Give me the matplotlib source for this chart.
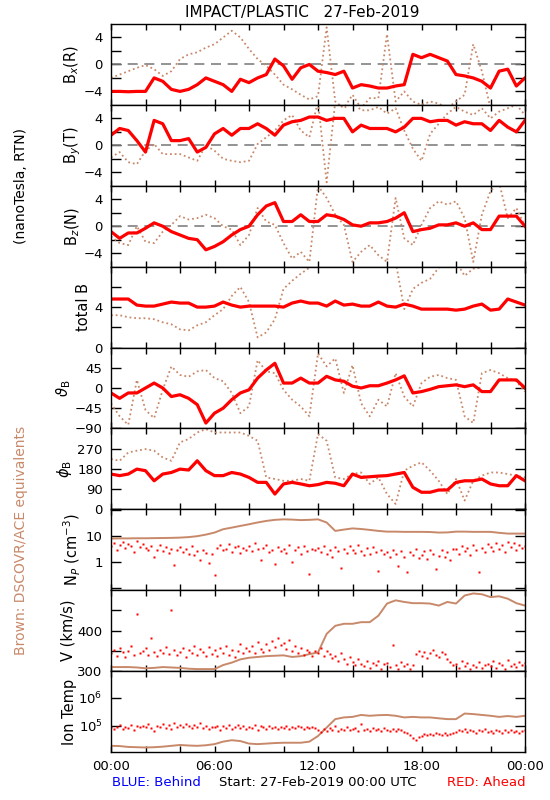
import matplotlib
matplotlib.use("Agg")
import matplotlib.pyplot as plt
import matplotlib.ticker as mticker
import numpy as np

RED = "#FF0000"
BROWN = "#C8896B"

# time grids (hours after 27-Feb-2019 00:00 UTC)
hours = np.arange(0, 24.01, 0.5)
hours10 = np.arange(0, 24.01, 1 / 6)

# ---- magnetic field, STEREO Ahead (red) and DSCOVR/ACE (brown), half-hourly ----
bx_red = [-4.0, -4.0, -4.05, -4.0, -4.0, -2.0, -2.5, -3.7, -4.0, -3.7,
          -3.0, -2.0, -2.5, -3.0, -4.0, -2.2, -2.7, -2.0, -1.5, 0.8,
          -0.2, -2.2, -0.5, 0.0, -1.0, -1.2, -1.5, -1.0, -3.5, -3.0,
          -3.2, -3.5, -3.5, -3.2, -3.0, 1.5, 1.0, 1.5, 1.0, 0.5,
          -1.5, -1.7, -2.0, -2.5, -3.5, -1.0, -0.7, -3.2, -2.0]
bx_brown = [-2.0, -1.5, -1.0, -0.5, -0.1, -0.7, -1.7, -1.0, 0.8, 1.5,
            1.8, 2.5, 3.0, 4.0, 5.0, 4.0, 2.3, 0.8, -0.2, -1.5,
            -3.0, -3.7, -4.5, -5.2, -4.7, 5.5, -5.5, -6.5, -4.5, -6.5,
            -5.0, -5.0, 4.5, -5.5, -4.0, -5.5, -6.0, -5.5, -5.8, -6.5,
            -5.5, -4.5, 3.0, -1.0, -6.5, -6.5, -6.2, -6.5, -6.0]
by_red = [1.5, 2.5, 2.2, 0.7, -1.0, 3.7, 3.2, 0.7, 0.7, 1.0,
          -1.0, -0.3, 1.7, 2.5, 1.5, 2.5, 2.5, 3.2, 2.5, 1.5,
          3.0, 3.5, 3.7, 4.2, 4.2, 3.7, 4.0, 4.0, 2.0, 3.0,
          2.5, 2.5, 2.5, 2.0, 2.7, 4.0, 4.0, 3.5, 3.7, 3.7,
          3.0, 3.5, 3.2, 3.2, 2.2, 3.7, 2.7, 2.0, 3.7]
by_brown = [-1.8, -1.0, -2.5, -2.8, -0.8, 0.2, -1.3, -1.3, -1.3, -1.8,
            -2.3, 0.0, -0.8, -2.0, -2.3, -2.5, -2.3, 0.2, 1.2, 2.2,
            3.7, 4.5, 2.2, 1.2, 6.5, -5.5, 6.5, 5.5, 6.5, 5.2,
            5.2, 5.7, 4.7, 5.5, 2.2, -0.5, -2.3, 1.7, 3.2, 4.7,
            5.7, 5.0, 4.5, 5.5, 4.0, 5.0, 5.5, 6.0, 4.5]
bz_red = [-0.8, -1.8, -1.0, -1.0, -0.3, 0.5, 0.0, -0.8, -1.3, -1.8,
          -2.0, -3.5, -3.0, -2.3, -1.3, -0.5, 0.0, 1.7, 3.0, 3.5,
          0.7, 0.7, 1.7, 0.7, 0.7, 1.7, 1.5, 1.0, 0.2, 0.0,
          0.5, 0.5, 0.7, 1.2, 2.0, -0.8, -0.5, -0.3, 0.2, 0.2,
          0.5, 0.0, 0.5, -0.5, -0.5, 1.5, 1.5, 1.5, 0.0]
bz_brown = [-1.5, -2.5, -2.8, 0.0, -2.3, -2.5, -0.8, 0.2, 1.5, 1.0,
            1.2, 1.7, 1.2, 0.0, -0.5, -2.8, -1.3, 2.7, 0.7, 0.2,
            -2.5, -4.8, -3.8, -5.3, 6.0, 4.2, 1.7, 0.2, -5.3, -3.8,
            -2.8, -4.3, -5.3, 4.2, -1.8, -2.8, 0.2, 2.7, 3.7, 3.2,
            3.7, 1.2, -5.3, 1.7, 5.2, 6.5, 1.2, 2.7, 0.0]
bt_red = [4.8, 4.8, 4.8, 4.2, 4.1, 4.1, 4.3, 4.5, 4.4, 4.4,
          4.0, 4.0, 4.1, 4.5, 4.2, 4.0, 4.1, 4.1, 4.1, 4.1,
          4.0, 4.4, 4.6, 4.4, 4.4, 4.1, 4.6, 4.2, 4.3, 4.1,
          4.1, 4.5, 4.1, 4.0, 4.3, 4.1, 3.8, 3.8, 3.8, 3.8,
          3.7, 3.8, 4.1, 4.3, 3.7, 3.8, 4.8, 4.5, 4.2]
bt_brown = [3.2, 3.2, 3.0, 2.9, 2.9, 2.8, 2.5, 2.3, 1.8, 1.7,
            2.2, 2.5, 3.2, 3.8, 5.1, 6.0, 4.5, 1.0, 1.5, 2.8,
            5.8, 6.6, 7.3, 7.9, 8.5, 9.0, 9.0, 9.0, 7.9, 8.5,
            9.0, 9.0, 9.0, 8.5, 3.8, 5.8, 6.4, 6.8, 7.9, 8.5,
            8.5, 7.1, 7.8, 7.9, 8.5, 9.0, 9.0, 9.0, 9.0]
theta_red = [-11, -23, -11, -11, 0, 11, 0, -19, -15, -23,
             -37, -78, -56, -45, -26, -11, -4, 22, 40, 55,
             11, 11, 22, 11, 11, 26, 18, 15, 4, 0,
             5, 5, 11, 18, 27, -11, -8, -3, 3, 5,
             7, 3, 7, -8, -8, 18, 18, 18, 0]
theta_brown = [-34, -63, -82, 18, -49, -67, -4, 48, 29, 25,
               37, 40, 22, 15, -11, -56, -41, 62, 37, 33,
               -4, -26, -41, -63, 77, 48, 66, -11, 51, -34,
               -63, -26, -41, 33, -19, -41, 11, 25, 29, 22,
               18, -63, -78, 33, 40, 33, 22, 15, -8]
phi_red = [157, 150, 157, 179, 172, 127, 157, 164, 179, 175,
           216, 172, 150, 150, 164, 157, 142, 120, 120, 68,
           113, 120, 113, 105, 110, 120, 116, 105, 157, 142,
           145, 148, 150, 157, 164, 98, 76, 76, 86, 86,
           120, 127, 127, 135, 113, 105, 105, 150, 127]
phi_brown = [224, 216, 253, 261, 268, 261, 231, 216, 298, 313,
             342, 357, 342, 342, 342, 342, 327, 305, 142, 135,
             127, 127, 135, 127, 335, 305, 142, 135, 157, 164,
             113, 142, 68, 24, 172, 194, 209, 172, 127, 68,
             135, 39, 127, 150, 164, 164, 157, 150, 142]

# ---- plasma ----
np_brown = [8.1, 8.2, 8.2, 8.3, 8.3, 8.4, 8.5, 8.6, 8.8, 9.2,
            10, 11.5, 13.8, 18.6, 21.5, 25, 29, 34, 39, 43,
            45, 44, 42, 43, 45, 34, 16, 18, 20, 19,
            17.5, 16, 15, 15, 14.7, 14.7, 14.7, 14.5, 13.8, 14,
            15, 15, 14.7, 14.7, 14.7, 13.5, 12.6, 12.6, 12.6]
np_red = [4.0, 5.5, 3.0, 4.5, 6.0, 3.5, 5.0, 4.0, 2.5, 6.5, 3.8, 4.8,
          3.5, 2.8, 4.2, 1.6, 3.0, 4.5, 2.6, 3.8, 2.2, 3.2, 0.75, 2.9,
          3.8, 2.5, 3.2, 2.0, 4.0, 1.8, 2.7, 1.2, 3.0, 2.3, 0.9, 2.1,
          0.3, 3.5, 4.5, 2.8, 3.3, 5.0, 2.5, 3.8, 4.2, 2.2, 3.6, 2.9,
          4.0, 2.7, 5.2, 3.1, 1.2, 3.6, 4.5, 2.4, 3.0, 0.8, 3.8, 2.6,
          3.3, 2.2, 4.6, 1.0, 2.9, 3.7, 2.1, 4.0, 2.6, 0.35, 3.2, 2.8,
          3.5, 2.4, 4.2, 2.0, 3.0, 1.5, 3.8, 2.6, 0.6, 3.1, 2.2, 4.0,
          3.0, 2.3, 4.4, 2.7, 1.8, 3.4, 2.1, 3.9, 2.5, 0.45, 3.0, 2.0,
          2.5, 1.5, 3.0, 2.0, 0.7, 2.7, 1.6, 0.4, 2.4, 1.9, 3.2, 1.4,
          1.8, 2.6, 1.3, 3.0, 2.1, 0.55, 1.7, 2.8, 1.5, 2.4, 1.2, 3.1,
          3.3, 2.0, 4.2, 2.6, 3.6, 1.9, 4.5, 2.8, 0.4, 3.4, 2.4, 5.0,
          3.8, 2.7, 5.5, 3.2, 4.6, 2.5, 6.0, 3.9, 5.2, 2.9, 4.4, 3.6,
          4.0]
v_brown = [310, 310, 310, 309, 307, 308, 310, 309, 308, 306,
           305, 305, 305, 315, 321, 329, 333, 335, 337, 338,
           339, 335, 337, 342, 346, 392, 412, 417, 417, 421,
           421, 437, 467, 475, 471, 468, 468, 467, 462, 471,
           467, 487, 492, 490, 483, 485, 479, 468, 462]
v_red = [345, 352, 338, 358, 347, 335, 350, 362, 341, 440, 344, 349,
         356, 340, 382, 348, 337, 353, 345, 360, 342, 450, 351, 339,
         347, 358, 336, 352, 344, 363, 340, 355, 348, 337, 360, 343,
         352, 338, 357, 346, 362, 341, 353, 335, 349, 366, 344, 358,
         350, 362, 345, 371, 355, 348, 368, 352, 375, 360, 382, 365,
         370, 355, 378, 350, 362, 345, 358, 340, 353, 347, 338, 350,
         345, 356, 337, 350, 342, 333, 338, 325, 345, 330, 318, 335,
         322, 315, 330, 318, 312, 326, 308, 320, 315, 324, 305, 318,
         320, 310, 365, 316, 306, 322, 312, 318, 305, 314, 342, 350,
         338, 348, 332, 345, 352, 340, 336, 347, 343, 330, 322, 315,
         318, 308, 325, 312, 320, 305, 316, 310, 322, 308, 314, 318,
         312, 325, 308, 320, 315, 306, 328, 312, 318, 310, 322, 316,
         320]
# ion temperature in kK
t_brown_kK = [19.5, 19.1, 17.8, 17.4, 17.0, 17.4, 18.2, 19.5, 20.9, 20.0,
              19.5, 20.4, 22.4, 27.5, 30.9, 28.8, 23.4, 22.4, 23.4, 24.5,
              25.1, 25.1, 25.1, 27.5, 43.6, 87, 174, 200, 209, 245,
              229, 240, 245, 229, 200, 209, 200, 200, 186, 174,
              174, 275, 263, 245, 229, 209, 224, 209, 229]
t_red_kK = [95, 80, 88, 105, 75, 92, 84, 110, 70, 96, 88, 102,
            90, 115, 82, 68, 100, 94, 120, 86, 108, 78, 126, 92,
            104, 88, 118, 96, 82, 110, 92, 124, 84, 100, 76, 94,
            88, 100, 72, 96, 84, 108, 80, 94, 110, 86, 98, 78,
            92, 84, 104, 74, 96, 88, 80, 100, 86, 94, 78, 90,
            86, 96, 80, 92, 84, 102, 88, 76, 94, 84, 90, 82,
            70, 62, 78, 66, 84, 72, 96, 68, 80, 74, 88, 70,
            76, 84, 68, 118, 74, 80, 66, 86, 72, 78, 64, 82,
            74, 68, 80, 64, 76, 70, 60, 56, 48, 36, 32, 40,
            44, 50, 46, 52, 48, 56, 50, 46, 54, 48, 52, 58,
            62, 72, 66, 78, 60, 74, 68, 58, 70, 64, 76, 62,
            66, 58, 72, 64, 56, 70, 62, 74, 60, 66, 58, 68,
            72]

W, H = 550, 800
fig = plt.figure(figsize=(W / 100, H / 100), dpi=100)
plt.rcParams["font.family"] = ["DejaVu Sans"]

left, right = 111, 525
top, bottom = 24, 752
n = 9
ph = (bottom - top) / n

axes = []
for i in range(n):
    y0 = top + i * ph
    ax = fig.add_axes([left / W, 1 - (y0 + ph) / H, (right - left) / W, ph / H])
    ax.set_xlim(0, 24)
    ax.set_xticks(np.arange(0, 25, 2))
    ax.tick_params(which="both", direction="in", top=True, right=True,
                   width=1, labelsize=9.5, colors="black")
    ax.tick_params(axis="y", which="major", length=7, pad=6)
    ax.tick_params(axis="y", which="minor", length=7)
    ax.tick_params(axis="x", length=4, pad=6)
    for s in ax.spines.values():
        s.set_linewidth(1.0)
    if i < n - 1:
        ax.tick_params(axis="x", labelbottom=False)
    else:
        ax.set_xticklabels(["00:00", "", "", "06:00", "", "", "12:00", "", "",
                            "18:00", "", "", "00:00"])
    axes.append(ax)

dotted = dict(color=BROWN, lw=1.3, linestyle=(0, (1, 1.6)))
redline = dict(color=RED, lw=2.3)

# B components
for ax, rd, br in zip(axes[:3], [bx_red, by_red, bz_red], [bx_brown, by_brown, bz_brown]):
    ax.set_ylim(-6, 6)
    ax.set_yticks([-4, 0, 4])
    ax.set_yticklabels(["\u22124", "0", "4"])
    ax.yaxis.set_minor_locator(mticker.FixedLocator([-2, 2]))
    ax.axhline(0, color="#808080", lw=1.2, dashes=(6, 4))
    ax.plot(hours, br, **dotted)
    ax.plot(hours, rd, **redline)

# total B
ax = axes[3]
ax.set_ylim(0, 8)
ax.set_yticks([0, 4])
ax.yaxis.set_minor_locator(mticker.FixedLocator([2, 6]))
ax.plot(hours, bt_brown, **dotted)
ax.plot(hours, bt_red, **redline)

# theta
ax = axes[4]
ax.set_ylim(-90, 90)
ax.set_yticks([-90, -45, 0, 45])
ax.set_yticklabels(["\u221290", "\u221245", "0", "45"])
ax.plot(hours, theta_brown, **dotted)
ax.plot(hours, theta_red, **redline)

# phi
ax = axes[5]
ax.set_ylim(0, 360)
ax.set_yticks([0, 90, 180, 270])
ax.plot(hours, phi_brown, **dotted)
ax.plot(hours, phi_red, **redline)

# density
ax = axes[6]
ax.set_yscale("log")
ax.set_ylim(0.08, 110)
ax.yaxis.set_major_locator(mticker.FixedLocator([0.1, 1, 10, 100]))
ax.yaxis.set_major_formatter(mticker.FixedFormatter(["", "1", "10", ""]))
ax.yaxis.set_minor_locator(mticker.LogLocator(base=10, subs=np.arange(2, 10)))
ax.yaxis.set_minor_formatter(mticker.NullFormatter())
ax.tick_params(axis="y", which="minor", length=3)
ax.plot(hours, np_brown, color=BROWN, lw=1.4)
ax.plot(hours10, np_red, ls="none", marker="s", ms=1.8, mec="none", color=RED)

# speed
ax = axes[7]
ax.set_ylim(300, 500)
ax.set_yticks([300, 400])
ax.yaxis.set_minor_locator(mticker.FixedLocator([350, 450]))
ax.plot(hours, v_brown, color=BROWN, lw=1.4)
ax.plot(hours10, v_red, ls="none", marker="s", ms=1.8, mec="none", color=RED)

# ion temperature
ax = axes[8]
ax.set_yscale("log")
ax.set_ylim(10 ** 4.07, 10 ** 6.95)
ax.yaxis.set_major_locator(mticker.FixedLocator([1e5, 1e6]))
ax.yaxis.set_major_formatter(mticker.FixedFormatter(["10$^5$", "10$^6$"]))
ax.yaxis.set_minor_locator(mticker.NullLocator())
ax.plot(hours, np.array(t_brown_kK) * 1e3, color=BROWN, lw=1.4)
ax.plot(hours10, np.array(t_red_kK) * 1e3, ls="none", marker="s", ms=2.0,
        mec="none", color=RED)

# panel labels (figure pixel positions)
def ftext(x, y, s, **kw):
    fig.text(x / W, 1 - y / H, s, ha="center", va="center", **kw)

ylabels = [("B$_x$(R)", 72), ("B$_y$(T)", 73), ("B$_z$(N)", 73), ("total B", 83),
           (r"$\vartheta_{\rm B}$", 64), (r"$\phi_{\rm B}$", 64),
           ("N$_P$ (cm$^{-3}$)", 72), ("V (km/s)", 68), ("Ion Temp", 70)]
for i, (lab, x) in enumerate(ylabels):
    ftext(x, top + (i + 0.5) * ph, lab, rotation=90, fontsize=10.5)

ftext(21, 186, "(nanoTesla, RTN)", rotation=90, fontsize=10)
ftext(21, 540, "Brown: DSCOVR/ACE equivalents", rotation=90, fontsize=10, color=BROWN)

ftext(302, 12, "IMPACT/PLASTIC   27-Feb-2019", fontsize=11)
fig.text(112 / W, 1 - 783 / H, "BLUE: Behind", ha="left", va="center",
         fontsize=9.5, color="#0000FF")
ftext(318, 783, "Start: 27-Feb-2019 00:00 UTC", fontsize=9.5)
fig.text(526 / W, 1 - 783 / H, "RED: Ahead", ha="right", va="center",
         fontsize=9.5, color=RED)

fig.savefig("out.png", dpi=100)
